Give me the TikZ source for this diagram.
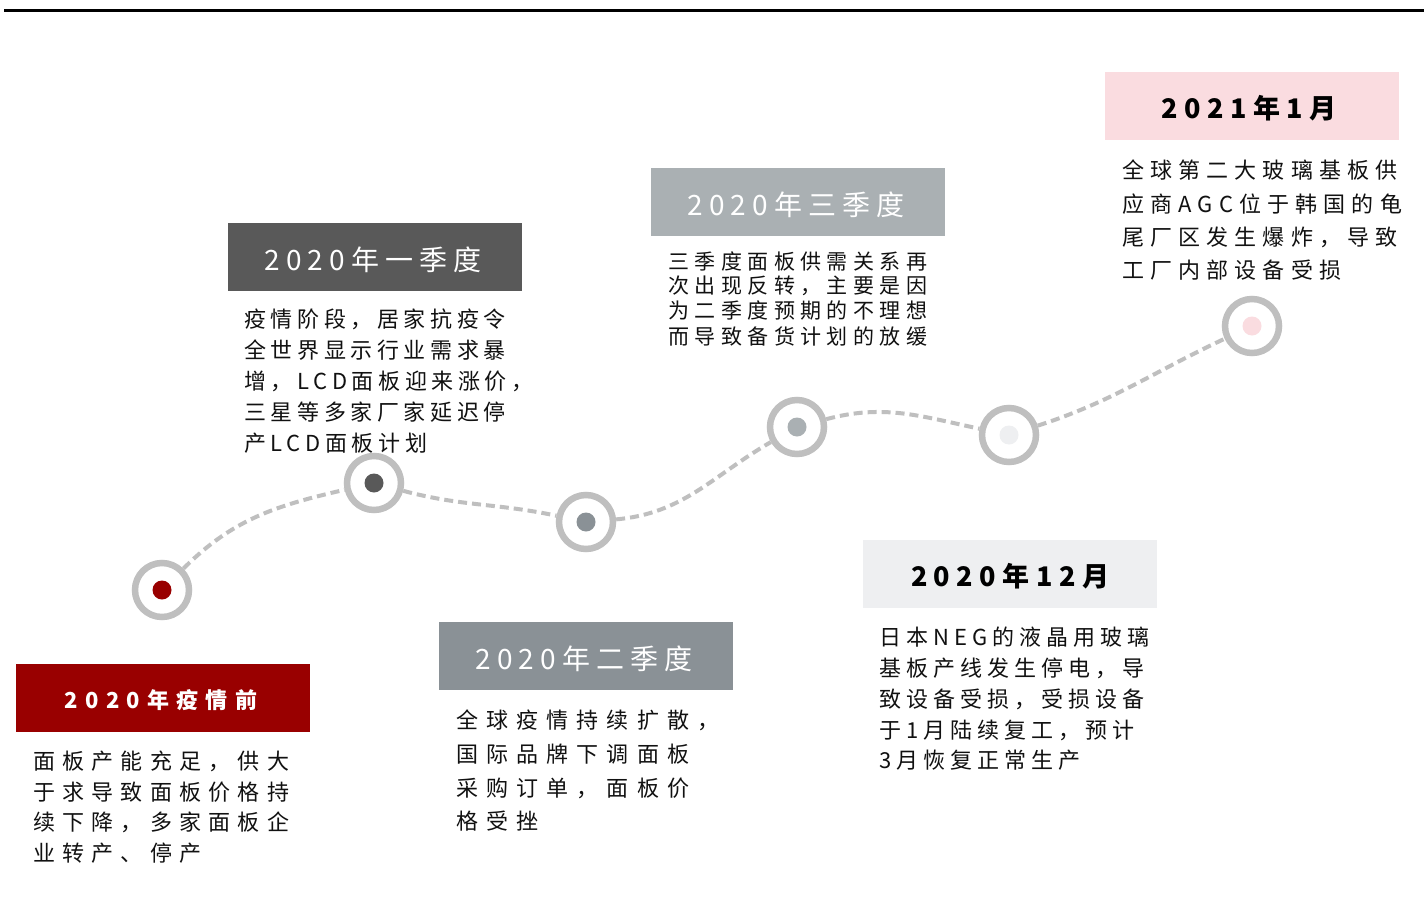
\documentclass[tikz,border=0pt]{standalone}
\usepackage{fontspec}
\setmainfont{Noto Sans CJK SC}
\newfontfamily\fA[LetterSpace=33]{Noto Sans CJK SC}
\newfontfamily\fB[LetterSpace=21]{Noto Sans CJK SC}
\newfontfamily\fC[LetterSpace=37]{Noto Sans CJK SC}
\newfontfamily\fD[LetterSpace=26]{Noto Sans CJK SC}
\newfontfamily\fE[LetterSpace=23]{Noto Sans CJK SC}
\newfontfamily\fF[LetterSpace=28]{Noto Sans CJK SC}
\newfontfamily\tA[LetterSpace=33]{Noto Sans CJK SC}
\newfontfamily\tB[LetterSpace=22]{Noto Sans CJK SC}
\newfontfamily\tC[LetterSpace=24]{Noto Sans CJK SC}
\definecolor{cRed}{HTML}{990000}
\definecolor{cDark}{HTML}{595959}
\definecolor{cMid}{HTML}{8A9196}
\definecolor{cLight}{HTML}{AAB0B3}
\definecolor{cPale}{HTML}{EEEFF1}
\definecolor{cPink}{HTML}{FADCE0}
\definecolor{cRing}{HTML}{BFBFBF}
\definecolor{cText}{HTML}{111111}
\tikzset{
  ring/.style={circle, draw=cRing, line width=6.5pt, fill=white, minimum size=54pt, inner sep=0pt},
  dot/.style={circle, minimum size=19pt, inner sep=0pt},
  dashline/.style={draw=cRing, line width=4pt, dash pattern=on 9pt off 5pt},
  titlebox/.style={minimum width=294pt, minimum height=68pt, inner sep=0pt},
  titletext/.style={inner sep=0pt, yshift=-2.5pt},
  bodyline/.style={anchor=west, inner sep=0pt, text=cText},
}
\begin{document}
\begin{tikzpicture}[x=1pt, y=-1pt]
\useasboundingbox (0,0) rectangle (1424,899);
\fill[white] (0,0) rectangle (1424,899);
% top rule
\coordinate (tl) at (4,10.7);
\coordinate (tr) at (1424,10.7);
\draw[line width=3.6pt] (tl) -- (tr);

% rings
\node[ring] (c1) at (162,590) {};
\node[ring] (c2) at (374,483) {};
\node[ring] (c3) at (586,522) {};
\node[ring] (c4) at (797,427) {};
\node[ring] (c5) at (1009,435) {};
\node[ring] (c6) at (1252,326) {};

% connectors
\draw[dashline] (c1) to[out=45, in=193] (c2);
\draw[dashline] (c2) to[out=-15, in=168] (c3);
\draw[dashline] (c3) to[out=5, in=210] (c4);
\draw[dashline] (c4) to[out=15, in=168] (c5);
\draw[dashline] (c5) to[out=18, in=205] (c6);

% dots
\node[dot, fill=cRed] (d1) at (c1) {};
\node[dot, fill=cDark] (d2) at (c2) {};
\node[dot, fill=cMid] (d3) at (c3) {};
\node[dot, fill=cLight] (d4) at (c4) {};
\node[dot, fill=cPale] (d5) at (c5) {};
\node[dot, fill=cPink] (d6) at (c6) {};

% title boxes
\node[titlebox, fill=cRed] (b1) at (163,698) {};
\node[titlebox, fill=cDark] (b2) at (375,257) {};
\node[titlebox, fill=cMid] (b3) at (586,656) {};
\node[titlebox, fill=cLight] (b4) at (798,202) {};
\node[titlebox, fill=cPale] (b5) at (1010,574) {};
\node[titlebox, fill=cPink] (b6) at (1252,106) {};
\node[titletext, text=white, font=\tA\bfseries\fontsize{22}{26}\selectfont, xshift=-2pt] (b1t) at (b1) {2020年疫情前};
\node[titletext, text=white, font=\tB\fontsize{28}{32}\selectfont, xshift=-2pt] (b2t) at (b2) {2020年一季度};
\node[titletext, text=white, font=\tB\fontsize{28}{32}\selectfont, xshift=-2pt] (b3t) at (b3) {2020年二季度};
\node[titletext, text=white, font=\tB\fontsize{28}{32}\selectfont, xshift=-2pt] (b4t) at (b4) {2020年三季度};
\node[titletext, text=black, font=\tC\bfseries\fontsize{27}{32}\selectfont] (b5t) at (b5) {2020年12月};
\node[titletext, text=black, font=\tC\bfseries\fontsize{27}{32}\selectfont, xshift=-3pt] (b6t) at (b6) {2021年1月};

% body 1
\begin{scope}[every node/.style={bodyline, font=\fA\fontsize{22}{26}\selectfont}]
\node (t1a) at (33,761) {面板产能充足，供大};
\node (t1b) at (33,792) {于求导致面板价格持};
\node (t1c) at (33,822) {续下降，多家面板企};
\node (t1d) at (33,853) {业转产、停产};
\end{scope}
% body 2
\begin{scope}[every node/.style={bodyline, font=\fB\fontsize{22}{26}\selectfont}]
\node (t2a) at (244,319) {疫情阶段，居家抗疫令};
\node (t2b) at (244,350) {全世界显示行业需求暴};
\node (t2c) at (244,381) {增，LCD面板迎来涨价，};
\node (t2d) at (244,412) {三星等多家厂家延迟停};
\node (t2e) at (244,443) {产LCD面板计划};
\end{scope}
% body 3
\begin{scope}[every node/.style={bodyline, font=\fC\fontsize{22}{26}\selectfont}]
\node (t3a) at (456,720) {全球疫情持续扩散，};
\node (t3b) at (456,754) {国际品牌下调面板};
\node (t3c) at (456,788) {采购订单，面板价};
\node (t3d) at (456,821) {格受挫};
\end{scope}
% body 4
\begin{scope}[every node/.style={bodyline, font=\fD\fontsize{21}{25}\selectfont}]
\node (t4a) at (668,261) {三季度面板供需关系再};
\node (t4b) at (668,286) {次出现反转，主要是因};
\node (t4c) at (668,311) {为二季度预期的不理想};
\node (t4d) at (668,336) {而导致备货计划的放缓};
\end{scope}
% body 5
\begin{scope}[every node/.style={bodyline, font=\fE\fontsize{22}{26}\selectfont}]
\node (t5a) at (879,637) {日本NEG的液晶用玻璃};
\node (t5b) at (879,668) {基板产线发生停电，导};
\node (t5c) at (879,699) {致设备受损，受损设备};
\node (t5d) at (879,730) {于1月陆续复工，预计};
\node (t5e) at (879,760) {3月恢复正常生产};
\end{scope}
% body 6
\begin{scope}[every node/.style={bodyline, font=\fF\fontsize{22}{26}\selectfont}]
\node (t6a) at (1122,170) {全球第二大玻璃基板供};
\node (t6b) at (1122,204) {应商AGC位于韩国的龟};
\node (t6c) at (1122,237) {尾厂区发生爆炸，导致};
\node (t6d) at (1122,270) {工厂内部设备受损};
\end{scope}
\end{tikzpicture}
\end{document}
